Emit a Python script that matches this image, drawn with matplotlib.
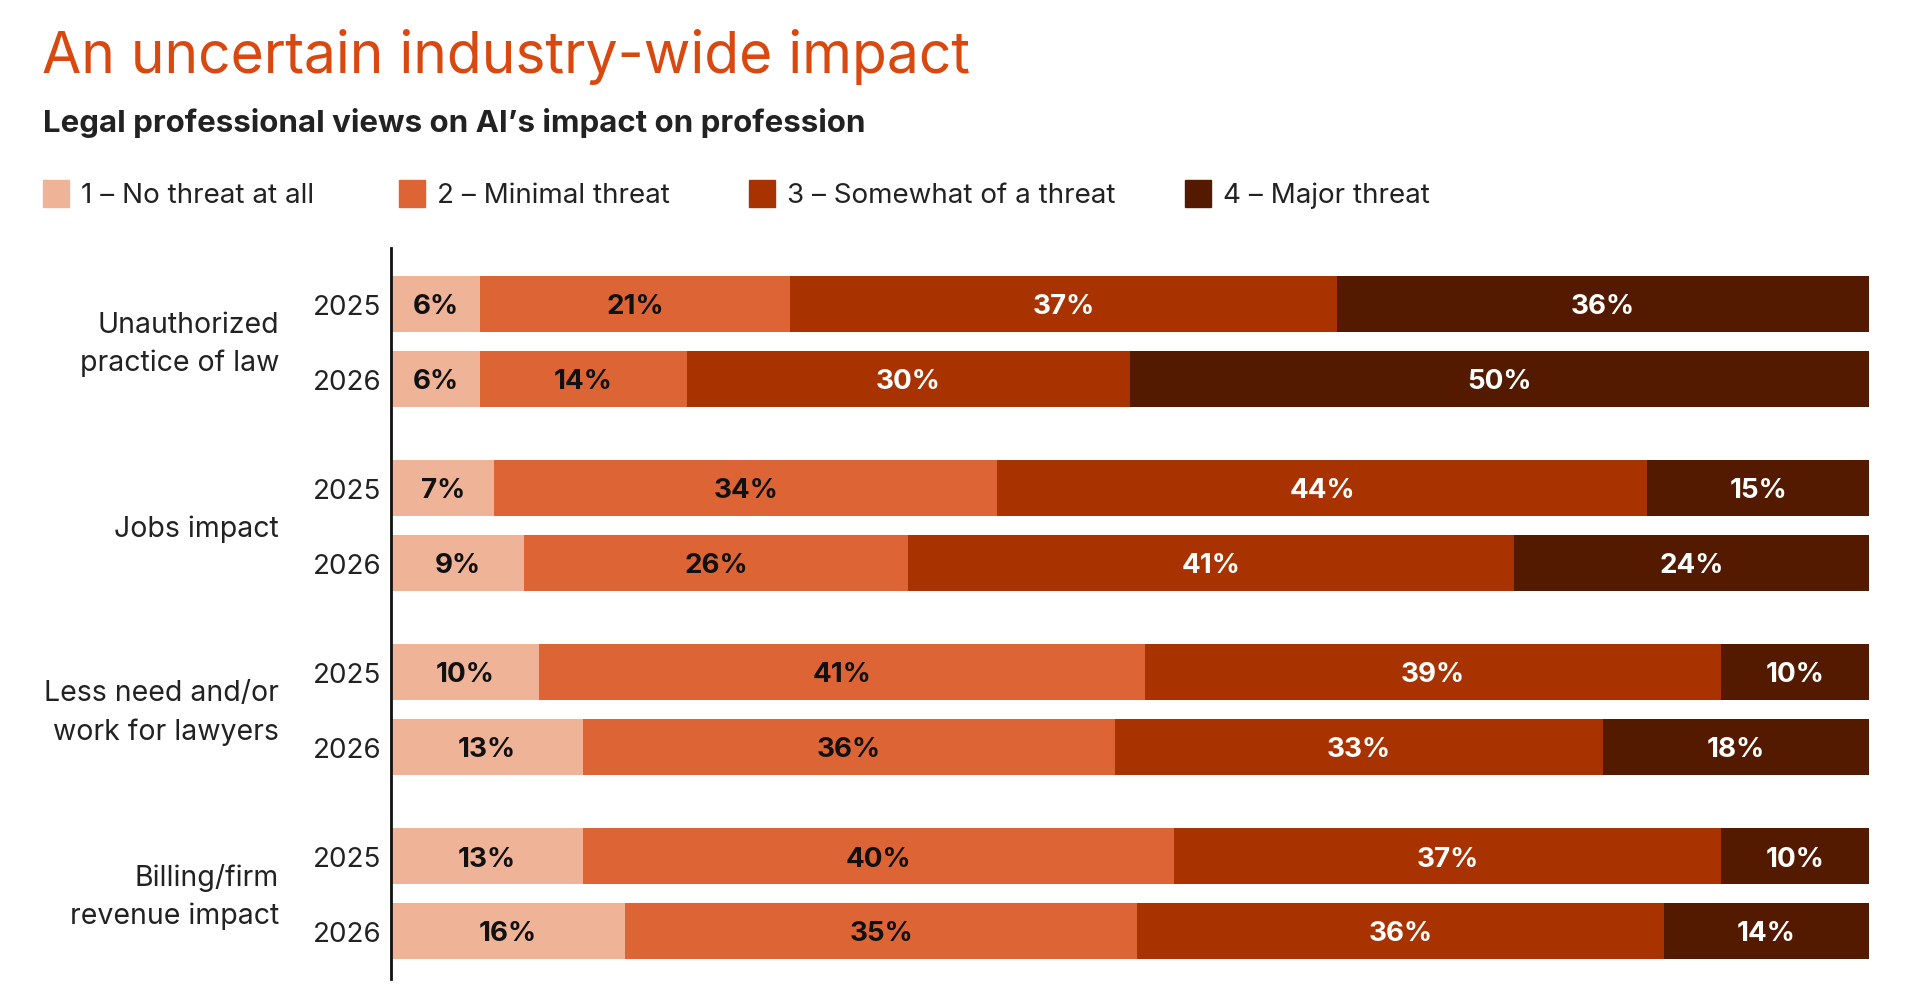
import numpy as np
import matplotlib
matplotlib.use('Agg')
from matplotlib import pyplot as plt
from matplotlib.patches import Rectangle
import matplotlib.transforms as mtrans

plt.rcParams['font.family'] = ['Inter', 'DejaVu Sans']

# data
categories = ['Unauthorized\npractice of law', 'Jobs impact',
			  'Less need and/or\nwork for lawyers', 'Billing/firm\nrevenue impact']
years = ['2025', '2026']
levels = ['1 – No threat at all', '2 – Minimal threat',
		  '3 – Somewhat of a threat', '4 – Major threat']
no_threat = [6, 6, 7, 9, 10, 13, 13, 16]
minimal = [21, 14, 34, 26, 41, 36, 40, 35]
somewhat = [37, 30, 44, 41, 39, 33, 37, 36]
major = [36, 50, 15, 24, 10, 18, 10, 14]

colors = ['#EFB398', '#DD6535', '#A83200', '#541A00']
txt_colors = ['#111111', '#111111', 'white', 'white']

W, H = 1920, 1004
fig = plt.figure(figsize=(W/100, H/100), dpi=100)

def fx(px): return px/W
def fy(py): return 1 - py/H

GAP = 2.46
ypos = []
for g in range(len(categories)):
	ypos += [g*GAP, g*GAP + 1]
ypos = np.array(ypos)

ax = fig.add_axes([fx(391), fy(980), fx(1869) - fx(391), fy(249) - fy(980)])
ax.set_xlim(0, 100)
ax.set_ylim(ypos[-1] + 0.64, -0.75)

series = np.array([no_threat, minimal, somewhat, major], dtype=float)
# rounded labels don't always add to 100, so bars show each row's share
share = series / series.sum(axis=0) * 100
left = np.zeros(len(ypos))
for vals, shr, c, tc in zip(series, share, colors, txt_colors):
	ax.barh(ypos, shr, left=left, height=0.75, color=c, edgecolor='none')
	for y, l, s, v in zip(ypos, left, shr, vals):
		ax.text(l + s/2, y + 0.03, f'{int(v)}%', ha='center', va='center',
				fontsize=20, fontweight='bold', color=tc)
	left += shr

for s in ['top', 'right', 'bottom']:
	ax.spines[s].set_visible(False)
ax.spines['left'].set_linewidth(2)
ax.spines['left'].set_color('#111111')
ax.set_xticks([])
ax.set_yticks(ypos)
ax.set_yticklabels(years*len(categories), fontsize=20, color='#222222',
				   va='center_baseline')
ax.tick_params(axis='y', length=0, pad=7)

trans = mtrans.blended_transform_factory(fig.transFigure, ax.transData)
for g, cat in enumerate(categories):
	ax.text(fx(279), g*GAP + 0.53, cat, transform=trans, ha='right', va='center',
			fontsize=20.5, color='#222222', linespacing=1.5)

# titles
fig.text(fx(42), fy(73), 'An uncertain industry-wide impact', fontsize=41,
		 color='#D9480F', va='baseline')
fig.text(fx(43), fy(132), 'Legal professional views on AI’s impact on profession',
		 fontsize=22.5, fontweight='bold', color='#222222', va='baseline')

# legend
leg_x = [43, 399, 749, 1185]
for x, lab, c in zip(leg_x, levels, colors):
	fig.patches.append(Rectangle((fx(x), fy(208)), fx(26), fy(181) - fy(208),
								 transform=fig.transFigure, color=c))
	fig.text(fx(x + 38), fy(196), lab, fontsize=20, color='#222222', va='center')

fig.savefig('out.png', dpi=100)
